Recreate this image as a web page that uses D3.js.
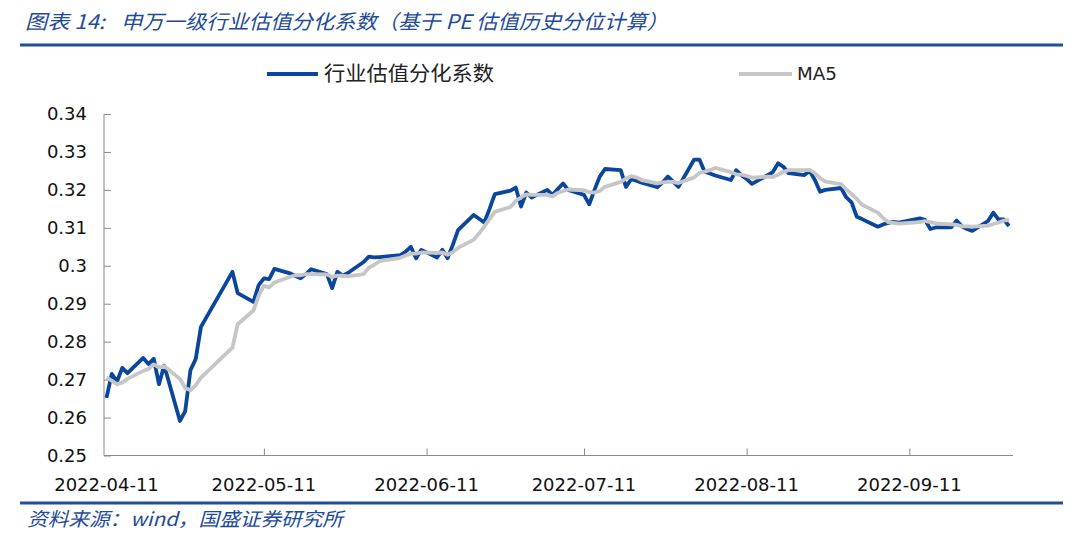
<!DOCTYPE html>
<html><head><meta charset="utf-8">
<script src="https://cdn.jsdelivr.net/npm/d3@7"></script>
<style>body{margin:0;background:#fff}svg{display:block}</style>
</head><body><svg id="c" width="1080" height="543"></svg>
<script>
const titleLabel = "图表 14:";
const titleText = "申万一级行业估值分化系数（基于 PE 估值历史分位计算）";
const sourceText = "资料来源：wind，国盛证券研究所";
const seriesNames = ["行业估值分化系数", "MA5"];

const dates = [
"2022-04-11","2022-04-12","2022-04-13","2022-04-14","2022-04-15","2022-04-18","2022-04-19","2022-04-20","2022-04-21","2022-04-22",
"2022-04-25","2022-04-26","2022-04-27","2022-04-28","2022-04-29",
"2022-05-05","2022-05-06","2022-05-09","2022-05-10","2022-05-11","2022-05-12","2022-05-13","2022-05-16","2022-05-17","2022-05-18",
"2022-05-19","2022-05-20","2022-05-23","2022-05-24","2022-05-25","2022-05-26","2022-05-27","2022-05-30","2022-05-31",
"2022-06-01","2022-06-02","2022-06-06","2022-06-07","2022-06-08","2022-06-09","2022-06-10","2022-06-13","2022-06-14","2022-06-15",
"2022-06-16","2022-06-17","2022-06-20","2022-06-21","2022-06-22","2022-06-23","2022-06-24","2022-06-27","2022-06-28","2022-06-29","2022-06-30",
"2022-07-01","2022-07-04","2022-07-05","2022-07-06","2022-07-07","2022-07-08","2022-07-11","2022-07-12","2022-07-13","2022-07-14",
"2022-07-15","2022-07-18","2022-07-19","2022-07-20","2022-07-21","2022-07-22","2022-07-25","2022-07-26","2022-07-27","2022-07-28","2022-07-29",
"2022-08-01","2022-08-02","2022-08-03","2022-08-04","2022-08-05","2022-08-08","2022-08-09","2022-08-10","2022-08-11","2022-08-12",
"2022-08-15","2022-08-16","2022-08-17","2022-08-18","2022-08-19","2022-08-22","2022-08-23","2022-08-24","2022-08-25","2022-08-26",
"2022-08-29","2022-08-30","2022-08-31",
"2022-09-01","2022-09-02","2022-09-05","2022-09-06","2022-09-07","2022-09-08","2022-09-09","2022-09-13","2022-09-14","2022-09-15",
"2022-09-16","2022-09-19","2022-09-20","2022-09-21","2022-09-22","2022-09-23","2022-09-26","2022-09-27","2022-09-28","2022-09-29","2022-09-30"
];

const valuation = [
0.2652,0.2715,0.2695,0.2731,0.2717,0.2757,0.2741,0.2755,0.2688,0.2737,
0.2591,0.2617,0.2725,0.2754,0.2839,
0.2984,0.2928,0.2905,0.2949,0.2967,0.2965,0.2992,0.2980,0.2973,0.2967,
0.2978,0.2991,0.2978,0.2941,0.2984,0.2974,0.2981,0.3010,0.3024,
0.3022,0.3023,0.3028,0.3037,0.3050,0.3020,0.3042,0.3022,0.3042,0.3020,
0.3055,0.3094,0.3134,0.3124,0.3114,0.3150,0.3189,0.3198,0.3206,0.3156,0.3193,
0.3180,0.3200,0.3187,0.3202,0.3217,0.3200,0.3187,0.3162,0.3200,0.3235,
0.3255,0.3252,0.3208,0.3228,0.3224,0.3219,0.3207,0.3220,0.3235,0.3222,0.3208,
0.3280,0.3280,0.3248,0.3243,0.3238,0.3226,0.3252,0.3239,0.3229,0.3216,
0.3239,0.3247,0.3270,0.3261,0.3244,0.3239,0.3250,0.3226,0.3195,0.3200,
0.3205,0.3180,0.3167,
0.3129,0.3123,0.3103,0.3109,0.3113,0.3116,0.3114,0.3125,0.3121,0.3097,
0.3101,0.3101,0.3119,0.3104,0.3097,0.3092,0.3118,0.3140,0.3122,0.3122,0.3105
];

const ma5 = [
0.2706,0.2697,0.2688,0.2692,0.2702,0.2723,0.2728,0.2740,0.2732,0.2736,
0.2702,0.2678,0.2672,0.2685,0.2705,
0.2784,0.2846,0.2882,0.2921,0.2947,0.2943,0.2956,0.2971,0.2975,0.2975,
0.2978,0.2978,0.2977,0.2971,0.2974,0.2974,0.2972,0.2978,0.2995,
0.3002,0.3012,0.3021,0.3027,0.3032,0.3032,0.3035,0.3034,0.3035,0.3029,
0.3036,0.3047,0.3069,0.3085,0.3104,0.3123,0.3142,0.3155,0.3171,0.3180,0.3188,
0.3187,0.3187,0.3183,0.3192,0.3197,0.3201,0.3199,0.3194,0.3193,0.3197,
0.3208,0.3221,0.3230,0.3236,0.3233,0.3226,0.3217,0.3220,0.3221,0.3221,0.3218,
0.3233,0.3245,0.3248,0.3252,0.3258,0.3247,0.3241,0.3240,0.3237,0.3232,
0.3235,0.3234,0.3240,0.3247,0.3252,0.3252,0.3253,0.3244,0.3231,0.3222,
0.3215,0.3201,0.3189,
0.3176,0.3161,0.3140,0.3126,0.3115,0.3113,0.3111,0.3115,0.3118,0.3115,
0.3112,0.3109,0.3108,0.3104,0.3104,0.3103,0.3106,0.3110,0.3114,0.3119,0.3121
];

const yTicks = [0.25,0.26,0.27,0.28,0.29,0.30,0.31,0.32,0.33,0.34];
const yTickLabels = ["0.25","0.26","0.27","0.28","0.29","0.3","0.31","0.32","0.33","0.34"];
const xTickLabels = ["2022-04-11","2022-05-11","2022-06-11","2022-07-11","2022-08-11","2022-09-11"];

const parse = d3.timeParse("%Y-%m-%d");
const svg = d3.select("#c");
const BLUE = "#0a469c", GRAY = "#c6c6c6", TITLE = "#1e4b9a", AXIS = "#8a8a8a";

const x = d3.scaleTime().domain([parse("2022-04-11"), parse("2022-09-30")]).range([106.5, 1009]);
const y = d3.scaleLinear().domain([0.25, 0.34]).range([455.5, 114]);

// title
const tg = svg.append("g").attr("font-family", "'Noto Sans CJK SC', sans-serif")
  .attr("font-style", "italic").attr("font-size", 20).attr("fill", TITLE);
tg.append("text").attr("x", 25).attr("y", 29).attr("textLength", 80)
  .attr("lengthAdjust", "spacingAndGlyphs").text(titleLabel);
tg.append("text").attr("x", 121).attr("y", 29).attr("textLength", 547)
  .attr("lengthAdjust", "spacingAndGlyphs").text(titleText);
svg.append("rect").attr("x", 20).attr("y", 43.5).attr("width", 1043).attr("height", 3).attr("fill", "#1f4e9c");
svg.append("rect").attr("x", 20).attr("y", 501.5).attr("width", 1043).attr("height", 3).attr("fill", "#1f4e9c");
svg.append("text").attr("x", 27).attr("y", 526)
  .attr("font-family", "'Noto Sans CJK SC', sans-serif").attr("font-style", "italic")
  .attr("font-size", 19).attr("fill", TITLE).attr("textLength", 316).attr("lengthAdjust","spacingAndGlyphs")
  .text(sourceText);

// legend
const lg = svg.append("g");
[[267, 318, BLUE, 324, seriesNames[0], 170], [739, 792, GRAY, 797, seriesNames[1], 40]].forEach(d => {
  lg.append("line").attr("x1", d[0]).attr("x2", d[1]).attr("y1", 74).attr("y2", 74)
    .attr("stroke", d[2]).attr("stroke-width", 4);
  lg.append("text").attr("x", d[3]).attr("y", 74).attr("dy", "0.36em")
    .attr("font-family", d[4] === "MA5" ? "'DejaVu Sans', sans-serif" : "'Noto Sans CJK SC', sans-serif")
    .attr("font-size", d[4] === "MA5" ? 18 : 20).attr("fill", "#222")
    .attr("textLength", d[5]).attr("lengthAdjust", "spacingAndGlyphs").text(d[4]);
});

// y axis
const ya = svg.append("g").attr("transform", "translate(104,0)")
  .call(d3.axisRight(y).tickValues(yTicks).tickSize(7).tickFormat(""));
ya.select(".domain").attr("stroke", AXIS).attr("d", `M0,${y(0.34)}V${y(0.25)}`);
ya.selectAll(".tick line").attr("stroke", AXIS);
svg.append("g").selectAll("text").data(yTicks).join("text")
  .attr("x", 87).attr("y", d => y(d)).attr("dy", "0.36em").attr("text-anchor", "end")
  .attr("font-family", "'DejaVu Sans', sans-serif").attr("font-size", 18).attr("fill", "#111")
  .text((d, i) => yTickLabels[i]);

// x axis
const xTickDates = xTickLabels.map(parse);
const xa = svg.append("g").attr("transform", `translate(0,${y(0.25)})`)
  .call(d3.axisTop(x).tickValues(xTickDates.slice(1)).tickSize(7).tickFormat(""));
xa.select(".domain").attr("stroke", AXIS).attr("d", "M104,0H1013");
xa.selectAll(".tick line").attr("stroke", AXIS);
svg.append("g").selectAll("text").data(xTickDates).join("text")
  .attr("x", d => x(d)).attr("y", 485).attr("dy", "0.36em").attr("text-anchor", "middle")
  .attr("font-family", "'DejaVu Sans', sans-serif").attr("font-size", 18).attr("fill", "#111")
  .text((d, i) => xTickLabels[i]);

// lines
const pts = dates.map(parse);
const line = d3.line().x((d, i) => x(pts[i])).y(d => y(d));
svg.append("path").datum(valuation).attr("d", line).attr("fill", "none")
  .attr("stroke", BLUE).attr("stroke-width", 3.8).attr("stroke-linejoin", "round");
svg.append("path").datum(ma5).attr("d", line).attr("fill", "none")
  .attr("stroke", GRAY).attr("stroke-width", 3.8).attr("stroke-linejoin", "round");
</script></body></html>
